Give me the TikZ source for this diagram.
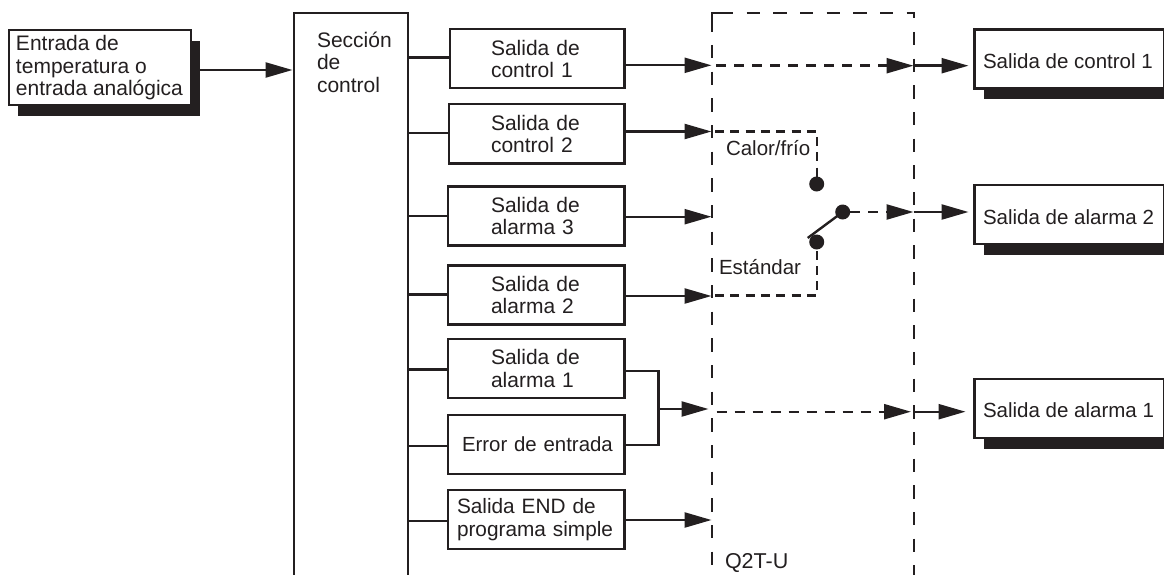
\documentclass[tikz,border=0pt]{standalone}
\usepackage{fontspec}
\setmainfont{Liberation Sans}
\usetikzlibrary{arrows.meta}
\definecolor{ink}{HTML}{231F20}
\tikzset{
  x=1pt,y=-1pt,
  every node/.style={font=\fontsize{21}{22.5}\selectfont,text=ink,inner sep=0pt,outer sep=0pt},
  lw/.style={line width=2.4pt,draw=ink},
  tip/.style={-{Triangle[length=27pt,width=15pt,ink]}},
  arr/.style={lw,tip},
  boxa/.style={lw,fill=white,minimum width=174.3pt,minimum height=59pt,anchor=north west,align=left,text width=92.3pt},
  boxb/.style={boxa,minimum width=176.6pt,text width=90pt},
  txtl/.style={anchor=base west,align=left},
  rtext/.style={txtl,font=\fontsize{20.5}{22.5}\selectfont},
  mod/.style={line width=2.4pt,draw=ink,dash pattern=on 13.3pt off 13.37pt},
  modsolid/.style={line width=2.4pt,draw=ink},
  dsh/.style={line width=2.4pt,draw=ink,dash pattern=on 10pt off 8pt},
  inner/.style={line width=2.4pt,draw=ink,dash pattern=on 9pt off 6.3pt},
  darr/.style={dsh,tip},
  dot/.style={circle,fill=ink,minimum size=15pt},
}
\begin{document}
\begin{tikzpicture}
\useasboundingbox (0,0) rectangle (1164,575);
\clip (0,0) rectangle (1164,575);
% input
\fill[ink] (18,41) rectangle (200,115.7);
\draw[lw,fill=white] (9,30) rectangle (191.2,105);
\node[txtl] (inp) at (16,50.7) {Entrada de};
\node[txtl] (inp2) at (16,73.3) {temperatura o};
\node[txtl] (inp3) at (16,96) {entrada analógica};
\coordinate (inpout) at (200,70);
% section
\draw[lw] (294,600) -- (294,13) -- (408,13) -- (408,600);
\coordinate (secin) at (292.5,70);
\draw[arr] (inpout) -- (secin);
\node[txtl] (s1) at (317,48) {Sección};
\node[txtl] (s2) at (317,70) {de};
\node[txtl] (s3) at (317,93) {control};
% boxes
\node[boxa] (b1) at (450,29.3) {Salida de\\control 1};
\node[boxa,minimum width=175.3pt,text width=91.3pt] (b2) at (449,104.3) {Salida de\\control 2};
\node[boxb] (b3) at (447.7,186.3) {Salida de\\alarma 3};
\node[boxb] (b4) at (447.7,265.5) {Salida de\\alarma 2};
\node[boxb] (b5) at (447.7,339) {Salida de\\alarma 1};
\node[boxb,text width=148pt,font=\fontsize{20.4}{22.5}\selectfont] (b6) at (447.7,415) {\mbox{Error de entrada}};
\node[boxb,text width=158pt,font=\fontsize{20.8}{22.5}\selectfont] (b7) at (447.7,490) {Salida END de\\programa simple};
\foreach \n/\y in {b1/57.7,b2/133,b3/215.7,b4/294.3,b5/369.3,b6/445.7,b7/521}
  \draw[lw] (408,\y) -- (\n.west |- 0,\y);
% arrows in
\coordinate (e1) at (711.5,65.3);
\coordinate (e2) at (711.5,131.5);
\coordinate (e3) at (711.5,216.7);
\coordinate (e4) at (711.5,296);
\coordinate (e5) at (708.5,409);
\coordinate (e7) at (711.5,520);
\draw[arr] (b1.east |- e1) -- (e1);
\draw[arr] (b2.east |- e2) -- (e2);
\draw[arr] (b3.east |- e3) -- (e3);
\draw[arr] (b4.east |- e4) -- (e4);
\draw[lw] (b5.east |- 0,371) -| (658.5,445) -- (b6.east |- 0,445);
\coordinate (j) at (658.5,409);
\draw[arr] (j) -- (e5);
\draw[arr] (b7.east |- e7) -- (e7);
% dashed module
\draw[modsolid] (712,32) -- (712,13) -- (733,13);
\draw[modsolid] (907,13) -- (914,13) -- (914,18);
\draw[mod] (746.7,13) -- (907,13);
\draw[mod] (712,45) -- (712,575);
\draw[mod] (914,32) -- (914,575);
\node[txtl,font=\fontsize{21.5}{23}\selectfont] (q) at (725,568) {Q2T-U};
% outputs
\foreach \t/\b in {29.5/88.5,185/244,379/438}{
  \fill[ink] (984,\t+10) rectangle (1170,\b+10.5);
  \draw[lw,fill=white] (974.5,\t) rectangle (1164,\b);
}
\node[rtext] (o1) at (983,69) {Salida de control 1};
\node[rtext] (o2) at (983,224) {Salida de alarma 2};
\node[rtext] (o3) at (983,417) {Salida de alarma 1};
\coordinate (oi1) at (968.5,65.7);
\coordinate (oi2) at (968.5,212);
\coordinate (oi3) at (965.5,411.7);
\coordinate (ri1) at (913.5,65.7);
\coordinate (ri2) at (913.5,212);
\coordinate (ri3) at (911,411.7);
\coordinate (ro3) at (914,411.7);
\draw[darr] (716,65.7) -- (ri1);
\draw[arr] (ri1) -- (oi1);
\draw[arr] (ri2) -- (oi2);
\draw[darr] (716.7,411.7) -- (ri3);
\draw[arr] (ro3) -- (oi3);
% switch
\node[dot] (d1) at (816.7,184) {};
\node[dot] (d2) at (816.7,242) {};
\node[dot] (d3) at (842.7,212) {};
\draw[lw] (807.7,238) -- (d3.center);
\draw[inner] (715,131.5) -| (d1.north);
\draw[inner] (715,295.5) -| (d2.south);
\draw[darr] (d3.east) -- (ri2);
\node[rtext] (cf) at (726,155) {Calor/frío};
\node[rtext] (est) at (719,274) {Estándar};
\end{tikzpicture}
\end{document}
